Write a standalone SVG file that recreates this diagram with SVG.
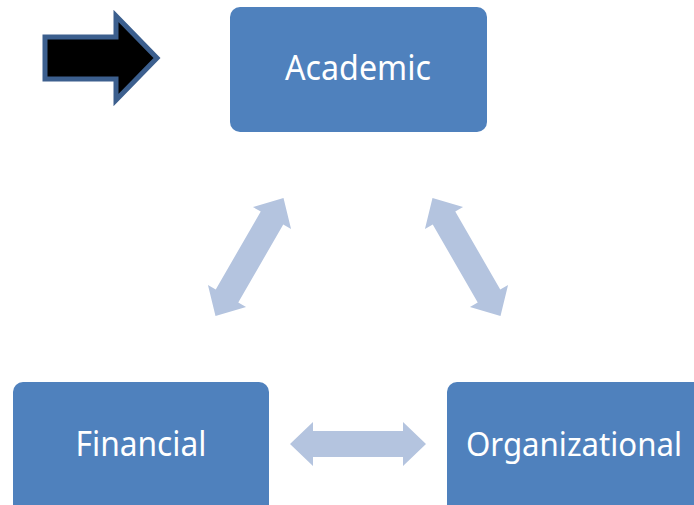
<svg xmlns="http://www.w3.org/2000/svg" xmlns:xlink="http://www.w3.org/1999/xlink" width="694" height="505" viewBox="0 0 694 505">
  <style>
    .box { fill: #4f81bd; }
    .label { fill: #ffffff; font-family: "Noto Sans", "Open Sans", sans-serif; font-size: 34px; text-anchor: middle; }
    .dbl { fill: #b4c4df; }
    .pointer { fill: #000000; stroke: #3c5f8e; stroke-width: 5; stroke-linejoin: miter; }
  </style>
  <defs>
    <polygon id="dblArrow" points="-68,0 -45,-22 -45,-13 45,-13 45,-22 68,0 45,22 45,13 -45,13 -45,22"/>
  </defs>
  <rect width="694" height="505" fill="#ffffff"/>

  <g id="pointer-arrow">
    <polygon class="pointer" points="45,37 116,37 116,16 157,58 116,100 116,79 45,79"/>
  </g>

  <g id="academic">
    <rect class="box" x="230" y="7" width="257" height="125" rx="10" ry="10"/>
    <text class="label" x="358" y="80" textLength="146" lengthAdjust="spacingAndGlyphs">Academic</text>
  </g>

  <g id="financial">
    <path class="box" d="M13,392 a10,10 0 0 1 10,-10 H259 a10,10 0 0 1 10,10 V505 H13 Z"/>
    <text class="label" x="141" y="456" textLength="131" lengthAdjust="spacingAndGlyphs">Financial</text>
  </g>

  <g id="organizational">
    <path class="box" d="M447,392 a10,10 0 0 1 10,-10 H694 V505 H447 Z"/>
    <text class="label" x="574" y="456" style="font-size:32px" textLength="216" lengthAdjust="spacingAndGlyphs">Organizational</text>
  </g>

  <g id="connectors">
    <use class="dbl" xlink:href="#dblArrow" href="#dblArrow" transform="translate(249.5,257) rotate(-60)"/>
    <use class="dbl" xlink:href="#dblArrow" href="#dblArrow" transform="translate(466.5,257) rotate(60)"/>
    <use class="dbl" xlink:href="#dblArrow" href="#dblArrow" transform="translate(358,444)"/>
  </g>
</svg>
